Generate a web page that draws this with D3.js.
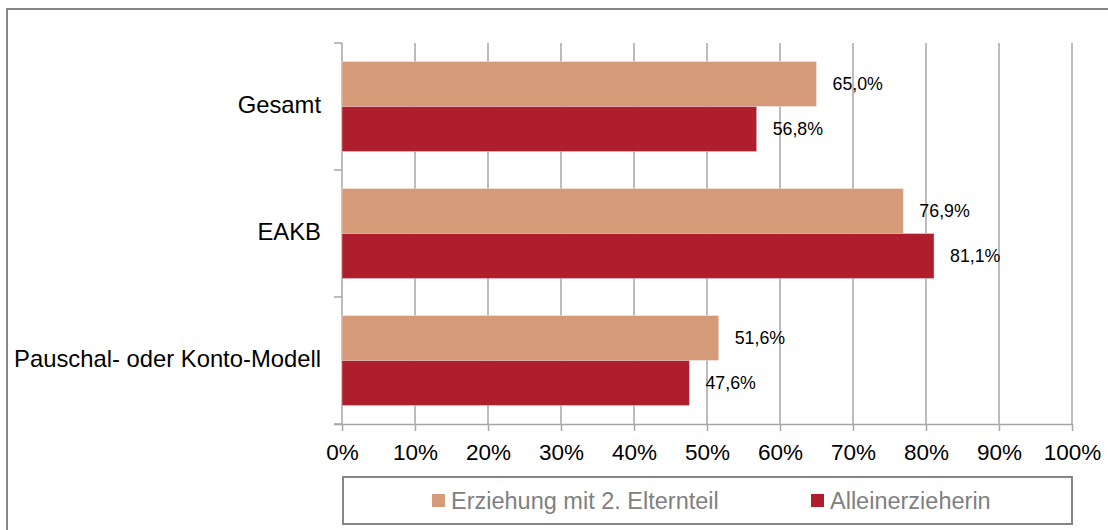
<!DOCTYPE html>
<html>
<head>
<meta charset="utf-8">
<script src="https://cdn.jsdelivr.net/npm/d3@7"></script>
<style>
  body { margin: 0; background: #fff; }
  text { font-family: "Liberation Sans", Arial, sans-serif; }
</style>
</head>
<body>
<div class="chart"></div>
<script>
var categories = ["Gesamt", "EAKB", "Pauschal- oder Konto-Modell"];
var seriesNames = ["Erziehung mit 2. Elternteil", "Alleinerzieherin"];
var zweiEltern = [65.0, 76.9, 51.6];
var alleinerz = [56.8, 81.1, 47.6];
var xTicks = [0, 10, 20, 30, 40, 50, 60, 70, 80, 90, 100];
var colors = ["#d59b79", "#af1e2d"];

var svgWidth = 1108;
var svgHeight = 530;

var svg = d3.select(".chart")
  .append("svg")
  .attr("width", svgWidth)
  .attr("height", svgHeight);

// outer frame (runs off the right and bottom edge)
svg.append("rect")
  .attr("x", 7)
  .attr("y", 9)
  .attr("width", 1200)
  .attr("height", 600)
  .attr("fill", "none")
  .attr("stroke", "#868686")
  .attr("stroke-width", 2);

var x = d3.scaleLinear().domain([0, 100]).range([342, 1072]);
var y = d3.scaleBand().domain(categories).range([43, 424])
  .paddingInner(0.291).paddingOuter(0.1455);
var ySub = d3.scaleBand().domain([0, 1]).range([0, y.bandwidth()]);

// vertical gridlines
svg.append("g").selectAll("line")
  .data(xTicks.slice(1))
  .enter()
  .append("line")
  .attr("x1", d => x(d)).attr("x2", d => x(d))
  .attr("y1", 43).attr("y2", 424)
  .attr("stroke", "#a6a6a6")
  .attr("stroke-width", 1.5);

// x axis
var bottomAxis = d3.axisBottom(x)
  .tickValues(xTicks)
  .tickSize(7)
  .tickSizeOuter(0)
  .tickPadding(13)
  .tickFormat(d => d + "%");

var xAxis = svg.append("g")
  .attr("transform", "translate(0, 424)")
  .call(bottomAxis);
xAxis.select(".domain").attr("stroke", "#a6a6a6").attr("stroke-width", 1.5)
  .attr("d", "M334,0.5H1072");
xAxis.selectAll(".tick line").attr("stroke", "#a6a6a6").attr("stroke-width", 1.5);
xAxis.selectAll(".tick text")
  .attr("font-size", 22.5)
  .attr("fill", "#000")
  .style("font-family", "'Liberation Sans', Arial, sans-serif");

// y axis with ticks between categories
var yAxisG = svg.append("g");
yAxisG.append("line")
  .attr("x1", 342).attr("x2", 342)
  .attr("y1", 43).attr("y2", 424)
  .attr("stroke", "#a6a6a6").attr("stroke-width", 1.5);
var yEdges = [43].concat(categories.map(c => y(c) + y.bandwidth() + y.step() * y.paddingInner() / 2));
yEdges[yEdges.length - 1] = 424;
yAxisG.selectAll(".ytick")
  .data(yEdges)
  .enter()
  .append("line")
  .attr("x1", 334).attr("x2", 342)
  .attr("y1", d => d).attr("y2", d => d)
  .attr("stroke", "#a6a6a6").attr("stroke-width", 1.5);

yAxisG.selectAll(".ylabel")
  .data(categories)
  .enter()
  .append("text")
  .attr("x", 321)
  .attr("y", d => y(d) + y.bandwidth() / 2 - 1.5)
  .attr("dy", "0.35em")
  .attr("text-anchor", "end")
  .attr("font-size", 23.8)
  .attr("fill", "#000")
  .text(d => d);

// bars
var series = [zweiEltern, alleinerz];
series.forEach(function(vals, si) {
  var g = svg.append("g");
  g.selectAll("rect")
    .data(vals)
    .enter()
    .append("rect")
    .attr("x", x(0))
    .attr("y", (d, i) => y(categories[i]) + ySub(si))
    .attr("width", d => x(d) - x(0))
    .attr("height", ySub.bandwidth())
    .attr("fill", colors[si])
    .attr("stroke", "#fff")
    .attr("stroke-opacity", 0.35)
    .attr("stroke-width", 1);

  g.selectAll("text")
    .data(vals)
    .enter()
    .append("text")
    .attr("x", d => x(d) + 16)
    .attr("y", (d, i) => y(categories[i]) + ySub(si) + ySub.bandwidth() / 2)
    .attr("dy", "0.35em")
    .attr("font-size", 17.8)
    .attr("fill", "#000")
    .text(d => d.toFixed(1).replace(".", ",") + "%");
});

// legend
var legend = svg.append("g");
legend.append("rect")
  .attr("x", 343).attr("y", 477)
  .attr("width", 729).attr("height", 47)
  .attr("fill", "none")
  .attr("stroke", "#868686")
  .attr("stroke-width", 2);

var legendX = [432, 811];
seriesNames.forEach(function(name, i) {
  legend.append("rect")
    .attr("x", legendX[i]).attr("y", 494)
    .attr("width", 13).attr("height", 13)
    .attr("fill", colors[i]);
  legend.append("text")
    .attr("x", legendX[i] + 19)
    .attr("y", 500.5)
    .attr("dy", "0.35em")
    .attr("font-size", 23.5)
    .attr("fill", "#808080")
    .text(name);
});
</script>
</body>
</html>
